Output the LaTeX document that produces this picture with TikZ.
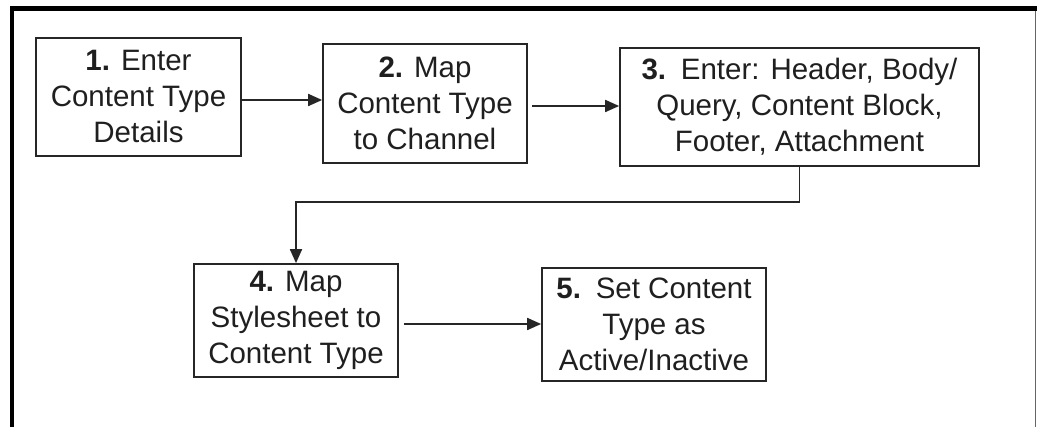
\documentclass[tikz,border=0pt]{standalone}
\usepackage{fontspec}
\setmainfont{Liberation Sans}
\usetikzlibrary{arrows.meta}
\begin{document}
\begin{tikzpicture}[x=1pt,y=-1pt,
  stepbox/.style={draw=black!85, line width=1.7pt, align=center, inner sep=0pt,
    font=\fontsize{29.5}{36}\selectfont, text=black!88},
  flow/.style={draw=black!85, line width=1.8pt, -{Triangle[length=14pt,width=12pt]}}]
\useasboundingbox (0,0) rectangle (1037,427);
% frame
\draw[line width=5pt] (10,8.5) -- (1037,8.5);
\draw[line width=4pt] (12,6) -- (12,427);
\draw[line width=1pt, black!60] (1035.5,11) -- (1035.5,427);
% steps
\node[stepbox, minimum width=205pt, minimum height=118pt] (b1) at (138.5,97)
  {\textbf{1.} Enter\\Content Type\\Details};
\node[stepbox, minimum width=204pt, minimum height=119pt] (b2) at (425,103.5)
  {\textbf{2.} Map\\Content Type\\to Channel};
\node[stepbox, minimum width=359pt, minimum height=118pt] (b3) at (799.5,107)
  {\textbf{3.}\enspace Enter: Header, Body/\\Query, Content Block,\\Footer, Attachment};
\node[stepbox, minimum width=204pt, minimum height=113pt] (b4) at (296,320.5)
  {\textbf{4.} Map\\Stylesheet to\\Content Type};
\node[stepbox, minimum width=224pt, minimum height=113pt] (b5) at (654,324.5)
  {\textbf{5.}\enspace Set Content\\Type as\\Active/Inactive};
% connectors
\draw[flow] (b1.east |- 0,100) -- (b2.west |- 0,100);
\draw[flow] ([xshift=4pt]b2.east |- 0,106) -- (b3.west |- 0,106);
\draw[flow] (b3.south) -- ++(0,35) -| (b4.north);
\draw[flow] ([xshift=5pt]b4.east |- 0,324) -- (b5.west |- 0,324);
\end{tikzpicture}
\end{document}
